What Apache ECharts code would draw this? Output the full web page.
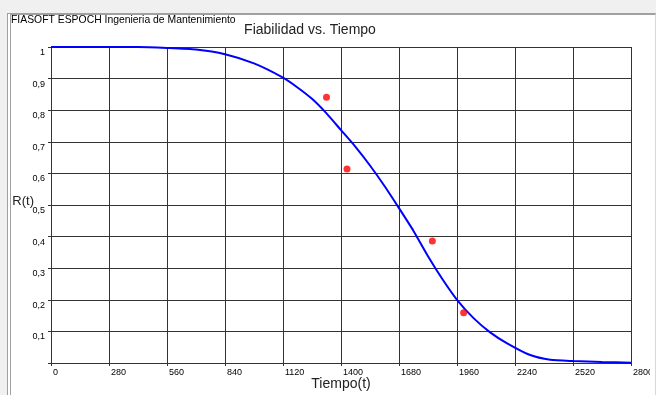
<!DOCTYPE html>
<html>
<head>
<meta charset="utf-8">
<script src="https://cdn.jsdelivr.net/npm/echarts@6/dist/echarts.min.js"></script>
<style>
  html, body { margin: 0; padding: 0; background: #f0f0f0; }
  .panel {
    position: absolute; left: 7px; top: 13px; width: 644px; height: 390px;
    background: #fff;
    border-top: 2px solid #a0a0a0;
    border-left: 4px double #a0a0a0;
    border-right: 1px solid #d8d8d8;
  }
  #chart { position: absolute; left: 0; top: 0; width: 650px; height: 395px; }
</style>
</head>
<body>
<div class="panel"></div>
<div id="chart"></div>
<script>
// fitted reliability curve
const curveTime = [0, 140, 280, 420, 560, 700, 840, 980, 1120, 1190, 1260, 1330, 1400, 1470, 1540,
  1610, 1680, 1750, 1820, 1890, 1960, 2040, 2120, 2200, 2310, 2410, 2520, 2660, 2800]
const curveR = [1, 1, 1, 1, 0.997, 0.992, 0.977, 0.948, 0.903, 0.872, 0.836, 0.79, 0.737, 0.684, 0.625,
  0.56, 0.49, 0.418, 0.338, 0.265, 0.2, 0.142, 0.097, 0.063, 0.026, 0.01, 0.006, 0.003, 0.001]

// observed failures (median ranks)
const failTime = [1330, 1429, 1841, 1992]
const failR = [0.841, 0.614, 0.386, 0.159]

const chart = echarts.init(document.getElementById('chart'))
const gridColor = '#333'

chart.setOption({
  backgroundColor: 'transparent',
  animation: false,
  title: [
    {
      text: 'FIASOFT ESPOCH Ingenieria de Mantenimiento',
      left: 6, top: 10,
      textStyle: { fontFamily: 'Liberation Sans', fontSize: 10.4, fontWeight: 'normal', color: '#000' },
    },
    {
      text: 'Fiabilidad vs. Tiempo',
      left: 305, top: 18, textAlign: 'center',
      textStyle: { fontFamily: 'Liberation Sans', fontSize: 14, fontWeight: 'normal', color: '#222' },
    },
  ],
  grid: { left: 51, top: 47, right: 19, bottom: 32, outerBoundsMode: 'none' },
  xAxis: {
    type: 'value',
    min: 0, max: 2800, interval: 280,
    name: 'Tiempo(t)',
    nameLocation: 'middle',
    nameGap: 14,
    nameMoveOverlap: false,
    nameTextStyle: { fontFamily: 'Liberation Sans', fontSize: 14, color: '#222' },
    axisLine: { lineStyle: { color: gridColor } },
    axisTick: { show: true, length: 3, lineStyle: { color: gridColor } },
    axisLabel: {
      align: 'left', margin: 5, padding: [0, 0, 0, 2],
      fontFamily: 'Liberation Sans', fontSize: 9, color: '#000',
      showMaxLabel: true,
      formatter: (v) => String(v),
    },
    splitLine: { show: true, lineStyle: { color: gridColor, width: 1 } },
  },
  yAxis: {
    type: 'value',
    min: 0, max: 1, interval: 0.1,
    name: 'R(t)',
    nameLocation: 'middle',
    nameRotate: 0,
    nameGap: 17,
    nameMoveOverlap: false,
    nameTextStyle: {
      fontFamily: 'Liberation Sans', fontSize: 13, color: '#222',
      verticalAlign: 'bottom', lineHeight: 8,
    },
    axisLine: { show: true, lineStyle: { color: gridColor } },
    axisTick: { show: true, length: 3, lineStyle: { color: gridColor } },
    axisLabel: {
      verticalAlign: 'top', margin: 6, padding: [1, 0, 0, 0],
      fontFamily: 'Liberation Sans', fontSize: 9, color: '#000',
      formatter: (v) => (v === 0 ? '' : String(+v.toFixed(1)).replace('.', ',')),
    },
    splitLine: { show: true, lineStyle: { color: gridColor, width: 1 } },
  },
  series: [
    {
      type: 'line',
      data: curveTime.map((t, i) => [t, curveR[i]]),
      smooth: 0.2,
      showSymbol: false,
      lineStyle: { color: '#0000ff', width: 2 },
      z: 3,
    },
    {
      type: 'scatter',
      data: failTime.map((t, i) => [t, failR[i]]),
      symbolSize: 7,
      itemStyle: { color: '#ff0000' },
      z: 4,
    },
  ],
})
</script>
</body>
</html>
